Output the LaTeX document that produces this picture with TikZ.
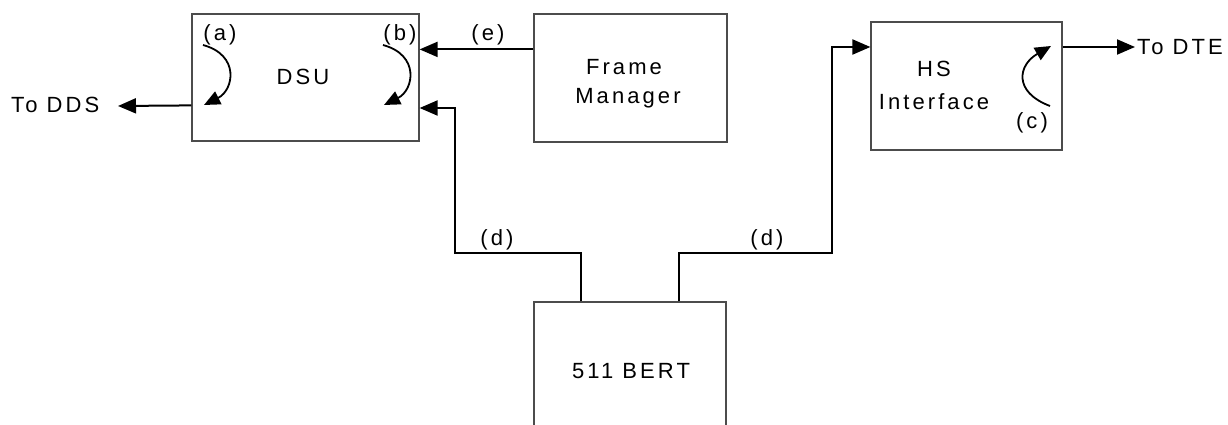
\documentclass[tikz,border=0pt]{standalone}
\usepackage{fontspec}
\setmainfont{Liberation Sans}[LetterSpace=14]
\usetikzlibrary{arrows.meta}
\tikzset{
  blk/.style={draw=black!70, line width=1.2pt, inner sep=0pt},
  conn/.style={draw=black, line width=2pt, -{Triangle[length=18pt,width=15pt]}},
  curvarrow/.style={draw=black, line width=1.8pt, -{Triangle[length=16pt,width=14pt]}},
  lbl/.style={inner sep=0pt, font=\fontsize{22}{26}\selectfont},
}
\begin{document}
\begin{tikzpicture}[x=1pt,y=-1pt]
\useasboundingbox (0,0) rectangle (1228,425);
\clip (0,0) rectangle (1228,425);
% blocks
\node[blk, minimum width=227pt, minimum height=127pt] (dsu) at (305.5,77.5) {};
\node[blk, minimum width=193pt, minimum height=128pt] (fm) at (630.5,78) {};
\node[blk, minimum width=191pt, minimum height=128pt] (hs) at (966.5,86) {};
\node[blk, minimum width=192pt, minimum height=260pt] (bert) at (630,432) {};
% texts
\node[lbl] (tdsu) at (303,77) {DSU};
\node[lbl] (tfm1) at (624,67) {Frame};
\node[lbl] (tfm2) at (628,98) {Manager};
\node[lbl] (ths1) at (934,69) {HS};
\node[lbl] (ths2) at (934,102) {Interface};
\node[lbl] (tbert) at (631,371) {511 BERT};
\node[lbl] (la) at (220,35) {(a)};
\node[lbl] (lb) at (400,35) {(b)};
\node[lbl] (lc) at (1032,123) {(c)};
\node[lbl] (le) at (488,35) {(e)};
\node[lbl] (ld1) at (497,240) {(d)};
\node[lbl] (ld2) at (767,240) {(d)};
\node[lbl, anchor=west] (tdds) at (11,105) {To DDS};
\node[lbl, anchor=west] (tdte) at (1137,47) {To DTE};
% connectors
\coordinate (ddsTip) at (118,106);
\coordinate (dteTip) at (1135,47);
\draw[conn] ([yshift=-92pt]dsu.north west) -- (ddsTip);
\draw[conn] ([yshift=-36pt]fm.north west) -- ([yshift=-36pt]dsu.north east);
\coordinate (b1) at ([xshift=48pt]bert.north west);
\coordinate (b2) at ([xshift=-48pt]bert.north east);
\draw[conn] (b1) -- (b1 |- 0,253) -- (455,253) -- (455,108) -- (dsu.east |- 0,108);
\draw[conn] (b2) -- (b2 |- 0,253) -- (832,253) -- (832,47) -- (hs.west |- 0,47);
\draw[conn] (hs.east |- 0,47) -- (dteTip);
% curved arrows
\draw[curvarrow] (203,45) .. controls (240,55) and (234,90) .. (204,105);
\draw[curvarrow] (383,45) .. controls (420,55) and (414,90) .. (384,105);
\draw[curvarrow] (1050,106) .. controls (1013,92) and (1018,65) .. (1051,46);
\end{tikzpicture}
\end{document}
